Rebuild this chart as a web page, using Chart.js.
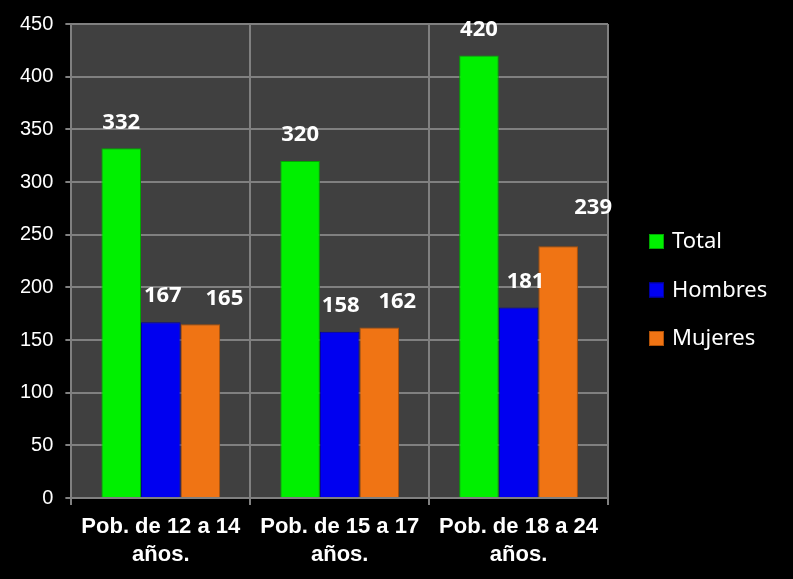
<!DOCTYPE html>
<html>
<head>
<meta charset="utf-8">
<script src="https://cdn.jsdelivr.net/npm/chart.js@4"></script>
<style>
  body { margin: 0; background: #000; }
  canvas { display: block; }
</style>
</head>
<body>
<canvas id="popChart" width="793" height="579"></canvas>
<script>
// Chart data
const categories = [
    ['Pob. de 12 a 14', 'años.'],
    ['Pob. de 15 a 17', 'años.'],
    ['Pob. de 18 a 24', 'años.']
];
const seriesNames = ['Total', 'Hombres', 'Mujeres'];
const totalValues = [332, 320, 420];
const hombresValues = [167, 158, 181];
const mujeresValues = [165, 162, 239];
const yTicks = [0, 50, 100, 150, 200, 250, 300, 350, 400, 450];

// Colours and value-label nudges (as placed in the original)
const fillColors = ['#00f000', '#0000f0', '#f07414'];
const edgeColors = ['#00a800', '#0000a0', '#b05208'];
const labelShiftX = [[0, 0, 0], [2, 1, 7], [24, 18, 35]];
const labelShiftY = [[0, 0, 0], [0, 0, 0], [0, 0, 13]];

// Background: black page, dark grey plot area
const backdrop = {
    id: 'backdrop',
    beforeDraw(chart) {
        const { ctx, chartArea } = chart;
        ctx.save();
        ctx.fillStyle = '#000';
        ctx.fillRect(0, 0, chart.width, chart.height);
        ctx.fillStyle = '#404040';
        ctx.fillRect(chartArea.left, chartArea.top,
            chartArea.right - chartArea.left, chartArea.bottom - chartArea.top);
        ctx.restore();
    }
};

// Bold value labels above each bar
const valueLabels = {
    id: 'valueLabels',
    afterDatasetsDraw(chart) {
        const { ctx } = chart;
        ctx.save();
        ctx.font = 'bold 22px "Open Sans", sans-serif';
        ctx.fillStyle = '#fff';
        ctx.textAlign = 'center';
        ctx.textBaseline = 'middle';
        chart.data.datasets.forEach((ds, i) => {
            chart.getDatasetMeta(i).data.forEach((bar, j) => {
                ctx.fillText(ds.data[j], bar.x + labelShiftX[i][j],
                    bar.y - 26 - labelShiftY[i][j]);
            });
        });
        ctx.restore();
    }
};

// Legend on the right
const sideLegend = {
    id: 'sideLegend',
    afterDraw(chart) {
        const { ctx, chartArea } = chart;
        const x = chartArea.right + 41;
        ctx.save();
        ctx.font = '22px "Noto Sans", sans-serif';
        ctx.textBaseline = 'middle';
        chart.data.datasets.forEach((ds, i) => {
            const y = 242 + i * 48.5;
            ctx.fillStyle = ds.backgroundColor;
            ctx.fillRect(x, y - 8, 15, 15);
            ctx.strokeStyle = ds.borderColor;
            ctx.lineWidth = 1;
            ctx.strokeRect(x + 0.5, y - 7.5, 14, 14);
            ctx.fillStyle = '#fff';
            ctx.fillText(ds.label, x + 23, y);
        });
        ctx.restore();
    }
};

const gridColor = '#808080';

new Chart(document.getElementById('popChart'), {
    type: 'bar',
    data: {
        labels: categories,
        datasets: [totalValues, hombresValues, mujeresValues].map((vals, i) => ({
            label: seriesNames[i],
            data: vals,
            backgroundColor: fillColors[i],
            borderColor: edgeColors[i],
            borderWidth: 1,
            categoryPercentage: 0.664,
            barPercentage: 1
        }))
    },
    options: {
        responsive: false,
        animation: false,
        devicePixelRatio: 1,
        layout: {
            padding: { left: 8, right: 185, top: 23, bottom: 2 }
        },
        plugins: {
            legend: { display: false },
            tooltip: { enabled: false }
        },
        scales: {
            x: {
                grid: {
                    color: gridColor,
                    lineWidth: 2,
                    tickLength: 7,
                    offset: true
                },
                border: { color: gridColor, width: 2 },
                ticks: {
                    color: '#fff',
                    padding: 8,
                    maxRotation: 0,
                    font: { family: '"Liberation Sans", Arial, sans-serif', size: 22, weight: 'bold', lineHeight: 1.27 }
                }
            },
            y: {
                min: 0,
                max: 450,
                afterBuildTicks(scale) {
                    scale.ticks = yTicks.map(v => ({ value: v }));
                },
                grid: {
                    color: gridColor,
                    lineWidth: 2,
                    tickLength: 6
                },
                border: { color: gridColor, width: 2 },
                ticks: {
                    color: '#fff',
                    padding: 12,
                    font: { family: '"Liberation Sans", Arial, sans-serif', size: 20 }
                }
            }
        }
    },
    plugins: [backdrop, valueLabels, sideLegend]
});
</script>
</body>
</html>
